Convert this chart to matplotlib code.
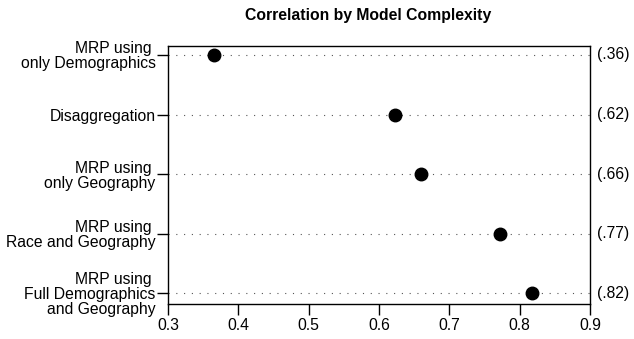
import matplotlib.pyplot as plt

# DATA
models = ["MRP using \nonly Demographics", "Disaggregation", "MRP using \nonly Geography",
          "MRP using \nRace and Geography", "MRP using \nFull Demographics\nand Geography"]
correlation = [0.365, 0.623, 0.659, 0.772, 0.818]
value_labels = ["(.36)", "(.62)", "(.66)", "(.77)", "(.82)"]
x_ticks = [0.3, 0.4, 0.5, 0.6, 0.7, 0.8, 0.9]

plt.rcParams['font.family'] = ['Liberation Sans', 'DejaVu Sans']
FS = 11.3

fig = plt.figure(figsize=(6.34, 3.39), dpi=100)
ax = fig.add_axes([0.265, 0.1032, 0.6656, 0.7611])

rows = list(range(len(models)))

# DOTTED GUIDE LINES + DOTS
for r in rows:
    ax.axhline(r, color='#555555', linewidth=0.8, dashes=(1, 6), zorder=1)
ax.plot(correlation, rows, 'o', color='black', markersize=9, zorder=3)

ax.set_xlim(0.3, 0.9)
ax.set_ylim(len(models) - 1 + 0.18, -0.15)
ax.set_xticks(x_ticks)
ax.set_xticklabels([f"{t:g}" for t in x_ticks])
ax.set_yticks(rows)
ax.set_yticklabels(models, linespacing=1.0)
ax.tick_params(axis='both', direction='out', length=8, width=1, labelsize=FS, color='black')
ax.tick_params(axis='y', pad=1)
ax.tick_params(axis='x', pad=2)
for s in ax.spines.values():
    s.set_linewidth(1)

# RIGHT VALUE LABELS
for r, lab in zip(rows, value_labels):
    ax.text(1.017, r, lab, transform=ax.get_yaxis_transform(), ha='left', va='center', fontsize=FS)

fig.text(0.58, 0.955, "Correlation by Model Complexity", fontsize=FS, fontweight='bold',
         ha='center', va='center')

fig.savefig('out.png', dpi=100)
